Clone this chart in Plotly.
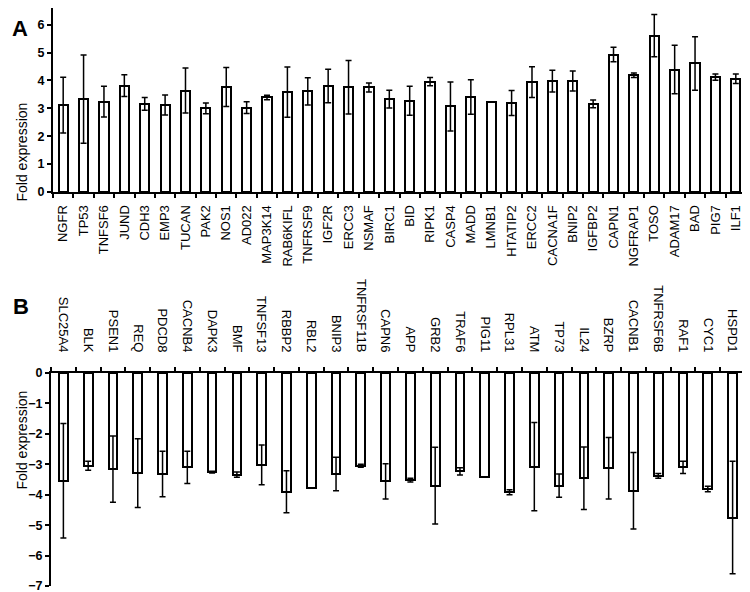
import plotly.graph_objects as go

# Panel A: up-regulated genes
genes_a = ["NGFR", "TP53", "TNFSF6", "JUND", "CDH3", "EMP3", "TUCAN", "PAK2", "NOS1", "AD022",
           "MAP3K14", "RAB6KIFL", "TNFRSF9", "IGF2R", "ERCC3", "NSMAF", "BIRC1", "BID", "RIPK1",
           "CASP4", "MADD", "LMNB1", "HTATIP2", "ERCC2", "CACNA1F", "BNIP2", "IGFBP2", "CAPN1",
           "NGFRAP1", "TOSO", "ADAM17", "BAD", "PIG7", "ILF1"]
fold_a = [3.12, 3.33, 3.24, 3.82, 3.16, 3.12, 3.64, 3.00, 3.77, 3.03,
          3.39, 3.58, 3.61, 3.80, 3.76, 3.75, 3.33, 3.27, 3.96,
          3.07, 3.41, 3.24, 3.19, 3.94, 3.98, 3.98, 3.16, 4.93,
          4.19, 5.61, 4.39, 4.61, 4.12, 4.06]
err_a = [1.00, 1.58, 0.55, 0.39, 0.23, 0.36, 0.81, 0.19, 0.70, 0.21,
         0.08, 0.90, 0.49, 0.60, 0.96, 0.16, 0.32, 0.52, 0.15,
         0.88, 0.62, 0.00, 0.45, 0.55, 0.39, 0.36, 0.14, 0.26,
         0.08, 0.76, 0.87, 0.96, 0.11, 0.17]

# Panel B: down-regulated genes
genes_b = ["SLC25A4", "BLK", "PSEN1", "REQ", "PDCD8", "CACNB4", "DAPK3", "BMF", "TNFSF13",
           "RBBP2", "RBL2", "BNIP3", "TNFRSF11B", "CAPN6", "APP", "GRB2", "TRAF6", "PIG11",
           "RPL31", "ATM", "TP73", "IL24", "BZRP", "CACNB1", "TNFRSF6B", "RAF1", "CYC1", "HSPD1"]
fold_b = [-3.54, -3.05, -3.16, -3.29, -3.32, -3.10, -3.26, -3.34, -3.02,
          -3.90, -3.78, -3.32, -3.05, -3.56, -3.52, -3.70, -3.23, -3.41,
          -3.92, -3.08, -3.70, -3.46, -3.13, -3.87, -3.38, -3.10, -3.81, -4.75]
err_b = [1.88, 0.15, 1.09, 1.13, 0.75, 0.53, 0.03, 0.09, 0.65,
         0.69, 0.00, 0.55, 0.05, 0.58, 0.06, 1.26, 0.12, 0.00,
         0.08, 1.45, 0.38, 1.03, 1.01, 1.26, 0.08, 0.20, 0.09, 1.85]

# The page body has an 8px default margin, so the figure is drawn in a 742x584 area.
OFF = 8
W, H = 750 - OFF, 592 - OFF
FONT = "Liberation Sans, Arial, sans-serif"


def fx(px):
    return (px - OFF) / W


def fy(py):
    return 1 - (py - OFF) / H


fig = go.Figure()
fig.add_trace(go.Bar(
    x=genes_a, y=fold_a, width=0.45,
    marker=dict(color="white", line=dict(color="black", width=2)),
    error_y=dict(type="data", array=err_a, symmetric=True, color="black", thickness=1.5, width=3),
    xaxis="x", yaxis="y", showlegend=False))
fig.add_trace(go.Bar(
    x=genes_b, y=fold_b, width=0.35,
    marker=dict(color="white", line=dict(color="black", width=2)),
    error_y=dict(type="data", array=err_b, symmetric=True, color="black", thickness=1.5, width=3),
    xaxis="x2", yaxis="y2", showlegend=False))

axis_common = dict(showline=True, linecolor="black", linewidth=2, showgrid=False, zeroline=False,
                   ticks="outside", tickcolor="black", tickwidth=2, ticklen=4,
                   ticklabeloverflow="allow")

fig.update_layout(
    width=W, height=H,
    margin=dict(l=0, r=0, t=0, b=0, autoexpand=False),
    paper_bgcolor="white", plot_bgcolor="white",
    font=dict(family=FONT, color="black", size=12),
    bargap=0,
    xaxis=dict(domain=[fx(53), fx(746)], anchor="y", type="category", tickson="boundaries",
               tickangle=-90, tickfont=dict(size=13), ticklabelstandoff=6, **axis_common),
    yaxis=dict(domain=[fy(192), fy(8)], anchor="x", range=[0, 6.6], dtick=1,
               tickfont=dict(size=12.5, family=FONT, weight="bold"), **axis_common),
    xaxis2=dict(domain=[fx(51), fx(745)], anchor="y2", side="top", type="category",
                tickson="boundaries", tickangle=90, tickfont=dict(size=13),
                ticklabelstandoff=14, **axis_common),
    yaxis2=dict(domain=[fy(586), fy(373)], anchor="x2", range=[-7, 0], dtick=1,
                tickfont=dict(size=12.5, family=FONT, weight="bold"), **axis_common),
)

# Panel letters and axis titles
fig.add_annotation(text="<b>A</b>", x=fx(10), y=fy(14), xref="paper", yref="paper",
                   showarrow=False, font=dict(size=22, family=FONT))
fig.add_annotation(text="<b>B</b>", x=fx(11), y=fy(306), xref="paper", yref="paper",
                   showarrow=False, font=dict(size=22, family=FONT))
fig.add_annotation(text="Fold expression", x=fx(11), y=fy(101), xref="paper", yref="paper",
                   showarrow=False, textangle=-90, font=dict(size=14, family=FONT))
fig.add_annotation(text="Fold expression", x=fx(11), y=fy(492), xref="paper", yref="paper",
                   showarrow=False, textangle=-90, font=dict(size=14, family=FONT))

fig.write_html("out.html")
